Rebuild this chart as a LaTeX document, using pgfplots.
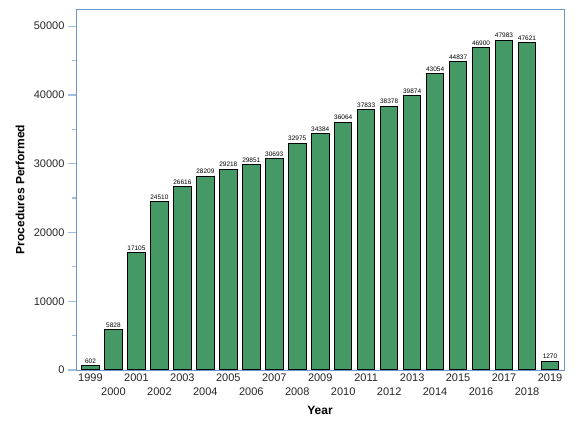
\documentclass[border=0pt]{standalone}
\usepackage{pgfplots}
\pgfplotsset{compat=1.18}
\usepackage{fontspec}
\setmainfont{Liberation Sans}
\definecolor{barg}{RGB}{69,153,101}
\definecolor{axblue}{RGB}{108,150,203}
\definecolor{tickblue}{RGB}{160,188,224}
\begin{document}
\begin{tikzpicture}
\useasboundingbox (-76pt,-58pt) rectangle (506pt,370pt);
\begin{axis}[
  scale only axis,
  width=488pt, height=361pt,
  at={(0pt,0pt)}, anchor=south west,
  xmin=1998.37, xmax=2019.61,
  ymin=0, ymax=52500,
  axis line style={axblue, line width=0.9pt},
  ytick={0,10000,20000,30000,40000,50000},
  minor ytick={5000,15000,25000,35000,45000},
  tick align=outside,
  major tick length=8pt,
  minor tick length=4pt,
  ytick pos=left,
  xtick pos=bottom,
  every tick/.style={tickblue, line width=1.2pt},
  xtick={1999,2001,...,2019},
  extra x ticks={2000,2002,...,2018},
  extra x tick style={xticklabel style={yshift=-14pt}},
  xtick style={draw=none},
  extra x tick style={xtick style={draw=none}},
  scaled y ticks=false,
  /pgf/number format/1000 sep={},
  /pgf/number format/assume math mode=true,
  ticklabel style={font=\fontsize{11}{13}\selectfont, text=black!85},
  xticklabel style={yshift=8pt},
  xlabel={Year},
  ylabel={Procedures Performed},
  every axis x label/.style={at={(axis description cs:0.5,0)}, yshift=-40pt, anchor=center, font=\bfseries\fontsize{12}{14}\selectfont},
  every axis y label/.style={at={(axis description cs:0,0.5)}, xshift=-56pt, rotate=90, anchor=center, font=\bfseries\fontsize{12}{14}\selectfont},
  ybar, bar width=0.765,
  nodes near coords,
  every node near coord/.append style={font=\fontsize{6.5}{7}\selectfont, text=black, inner sep=1.8pt},
  clip=false,
]
\addplot[fill=barg, draw=black, line width=1pt] table {
x y
1999 602
2000 5828
2001 17105
2002 24510
2003 26616
2004 28209
2005 29218
2006 29851
2007 30693
2008 32975
2009 34384
2010 36064
2011 37833
2012 38378
2013 39874
2014 43054
2015 44837
2016 46900
2017 47983
2018 47621
2019 1270
};
\end{axis}
\end{tikzpicture}
\end{document}
